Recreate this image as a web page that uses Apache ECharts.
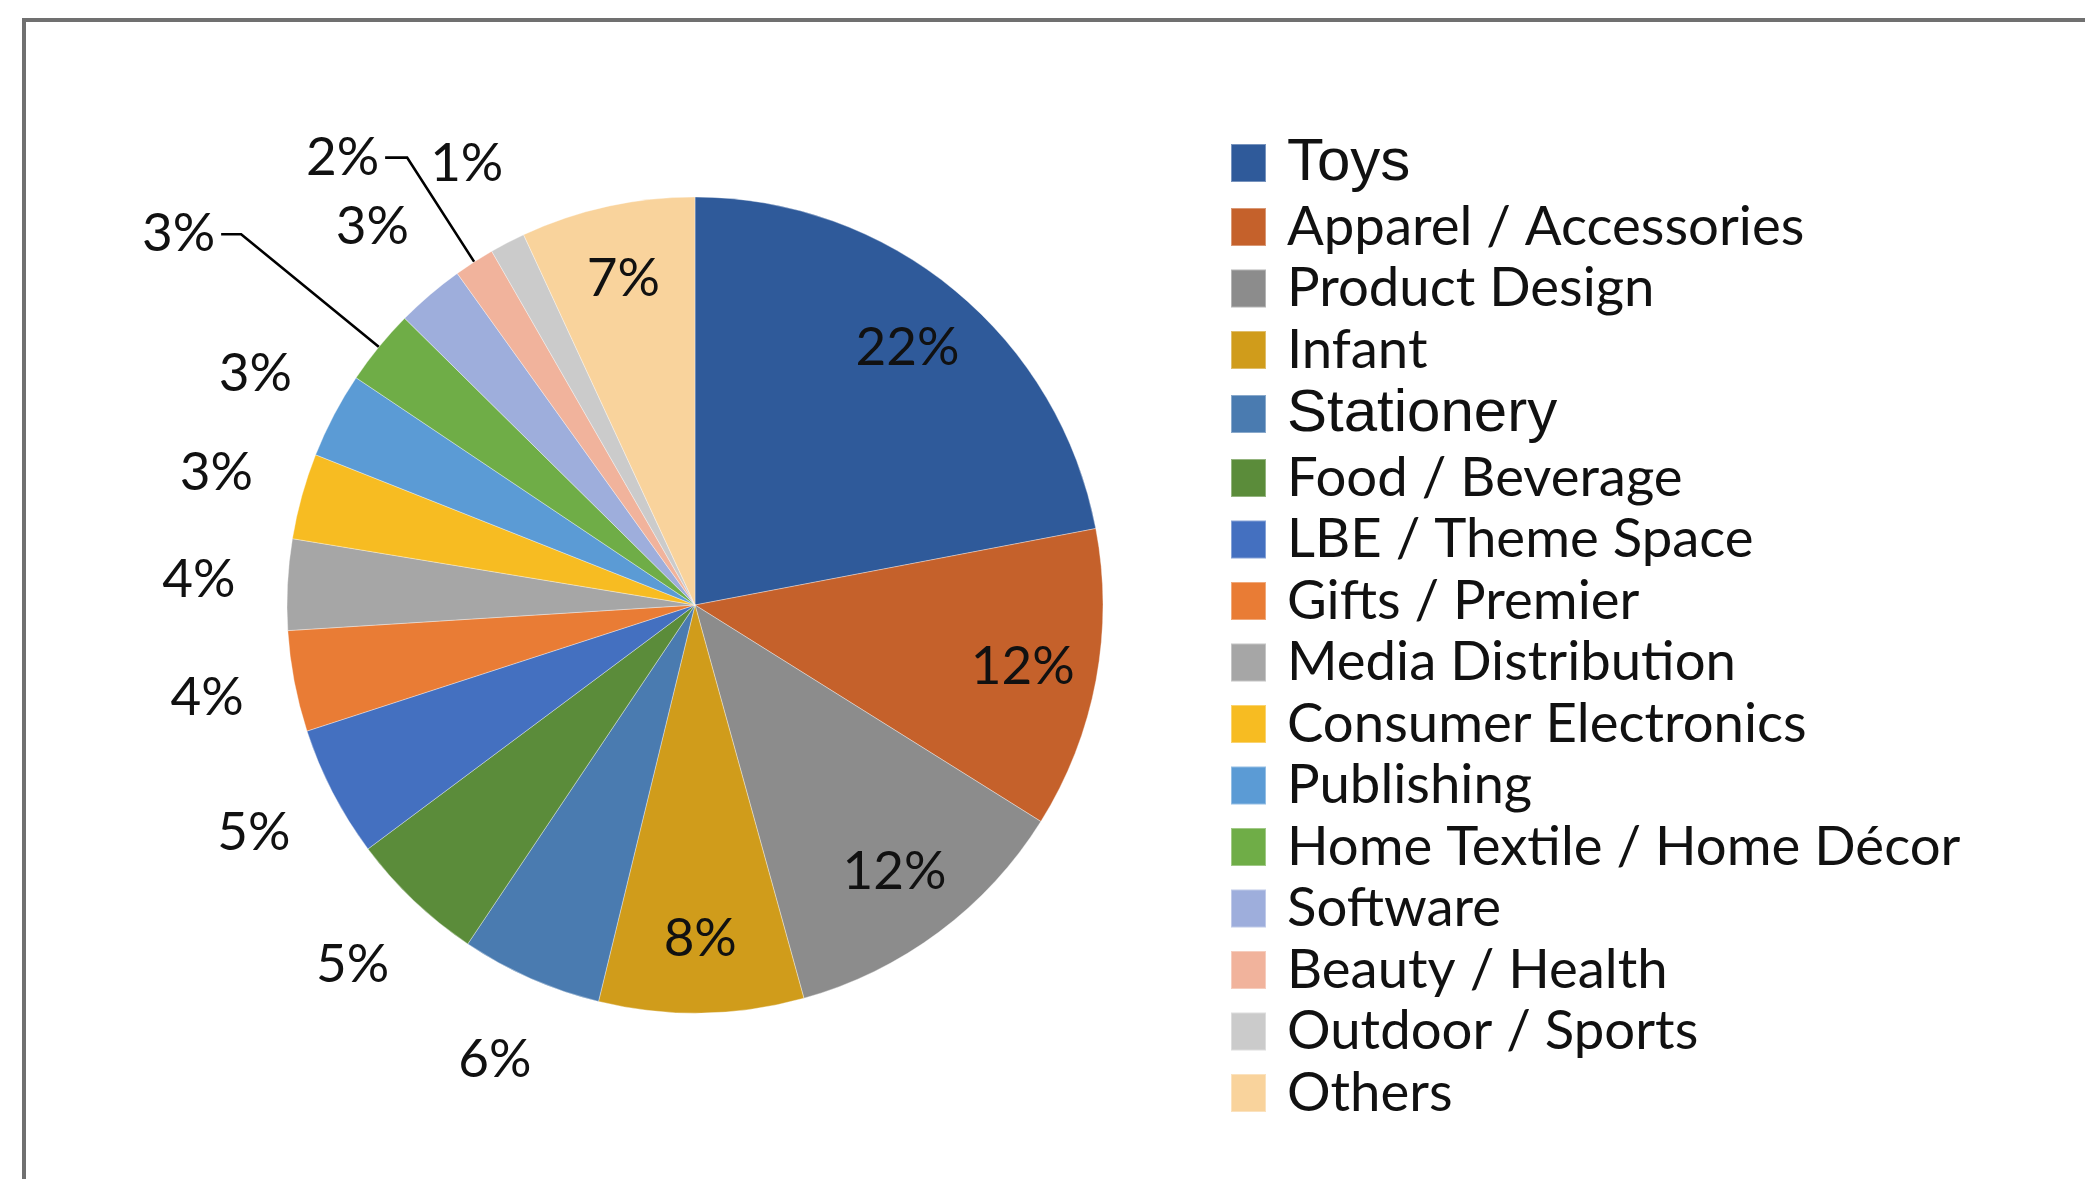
<!DOCTYPE html>
<html>
<head>
<meta charset="utf-8">
<script src="https://cdn.jsdelivr.net/npm/echarts@6/dist/echarts.min.js"></script>
<style>
html,body{margin:0;padding:0;background:#fff;}
#c{width:2085px;height:1179px;}
</style>
</head>
<body>
<div id="c"></div>
<script>
// ---- data ----
const categories = ['Toys','Apparel / Accessories','Product Design','Infant','Stationery','Food / Beverage','LBE / Theme Space','Gifts / Premier','Media Distribution','Consumer Electronics','Publishing','Home Textile / Home Décor','Software','Beauty / Health','Outdoor / Sports','Others'];
const shares = [22.0, 11.9, 11.8, 8.1, 5.6, 5.4, 5.2, 4.0, 3.6, 3.4, 3.4, 3.0, 2.7, 1.6, 1.4, 6.9];
const colors = ['#2F5A9A','#C5612B','#8C8C8C','#D09C1B','#4A7BB0','#5B8C3A','#4470C0','#E97C35','#A6A6A6','#F7BC22','#5B9BD5','#6FAD47','#9EAEDC','#F1B39C','#CBCBCB','#F9D39C'];
const insideLabelled = ['Toys','Apparel / Accessories','Product Design','Infant','Others'];
const leaderLabelled = ['Home Textile / Home Décor','Beauty / Health'];
const arialNames = ['Toys','Stationery'];

// ---- styles ----
const leaderStyle = {
  'Home Textile / Home Décor': {length: 178, length2: 20},
  'Beauty / Health': {length: 124, length2: 22}
};
const CX = 695, CY = 605, R = 408;
const pct = p => Math.round(p.percent) + '%';
const labelFont = {fontFamily: 'Lato', fontSize: 53, color: '#111'};
const clear = 'rgba(0,0,0,0)';

const chart = echarts.init(document.getElementById('c'), null, {renderer: 'canvas'});

const mainData = categories.map((n, i) => {
  const lead = leaderLabelled.includes(n);
  return {
    name: n, value: shares[i],
    itemStyle: {color: colors[i]},
    label: {show: lead},
    labelLine: lead ? {show: true, length: leaderStyle[n].length, length2: leaderStyle[n].length2} : {show: false}
  };
});
const innerData = categories.map((n, i) => ({
  name: n, value: shares[i],
  label: {show: insideLabelled.includes(n)}
}));
const outerData = categories.map((n, i) => ({
  name: n, value: shares[i],
  label: {show: !insideLabelled.includes(n) && !leaderLabelled.includes(n)}
}));

const option = {
  backgroundColor: '#fff',
  animation: false,
  graphic: [{
    type: 'rect', silent: true,
    shape: {x: 24, y: 20, width: 2300, height: 1400},
    style: {fill: 'none', stroke: '#707070', lineWidth: 4}
  }],
  legend: {
    orient: 'vertical',
    left: 1225, top: 128,
    itemWidth: 35, itemHeight: 38, itemGap: 6.5,
    icon: 'rect',
    selectedMode: false,
    data: categories,
    formatter: name => arialNames.includes(name) ? '{ar|' + name + '}' : '{ca|' + name + '}',
    textStyle: {
      padding: [0, 0, 0, 16],
      rich: {
        ca: {fontFamily: 'Lato', fontSize: 54.5, lineHeight: 56, color: '#111'},
        ar: {fontFamily: 'Liberation Sans', fontSize: 60, lineHeight: 56, color: '#111'}
      }
    }
  },
  series: [
    {
      type: 'pie', name: 'main',
      center: [CX, CY], radius: [0, R],
      startAngle: 90, clockwise: true,
      avoidLabelOverlap: false,
      silent: true,
      data: mainData,
      itemStyle: {borderColor: 'rgba(255,255,255,0.35)', borderWidth: 1},
      label: Object.assign({position: 'outside', formatter: pct, distanceToLabelLine: 6}, labelFont),
      labelLine: {lineStyle: {color: '#000', width: 2.6}, smooth: false},
      emphasis: {disabled: true}
    },
    {
      type: 'pie', name: 'innerLabels',
      center: [CX, CY], radius: [R * 0.62, R],
      startAngle: 90, clockwise: true,
      avoidLabelOverlap: false,
      silent: true,
      legendHoverLink: false,
      data: innerData,
      itemStyle: {color: clear, borderWidth: 0},
      label: Object.assign({position: 'inside', formatter: pct}, labelFont),
      labelLine: {show: false},
      labelLayout: {hideOverlap: false},
      emphasis: {disabled: true}
    },
    {
      type: 'pie', name: 'outerLabels',
      center: [CX, CY], radius: [R, R * 1.42],
      startAngle: 90, clockwise: true,
      avoidLabelOverlap: false,
      silent: true,
      legendHoverLink: false,
      data: outerData,
      itemStyle: {color: clear, borderWidth: 0},
      label: Object.assign({position: 'inside', formatter: pct}, labelFont),
      labelLine: {show: false},
      labelLayout: {hideOverlap: false},
      emphasis: {disabled: true}
    }
  ]
};
chart.setOption(option);
</script>
</body>
</html>
